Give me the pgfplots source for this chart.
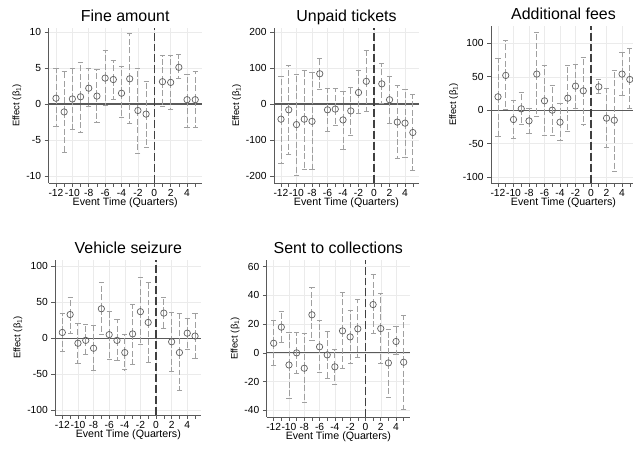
\documentclass[border=0pt]{standalone}
\usepackage{pgfplots}
\pgfplotsset{compat=1.18}
\usepackage{pgfplotstable}
\usepackage{fontspec}
\setmainfont{Liberation Sans}

\pgfplotstableread{
x y lo hi
-12 0.8 -3.1 4.9
-11 -1.1 -6.7 4.5
-10 0.7 -3.5 4.9
-9 1.0 -3.9 5.8
-8 2.2 -0.3 4.9
-7 1.1 -2.6 4.8
-6 3.6 -0.2 7.5
-5 3.4 0.7 6.0
-4 1.5 -1.9 5.2
-3 3.5 -2.7 9.8
-2 -0.9 -6.8 4.9
-1 -1.4 -6.0 3.1
1 3.1 -0.4 6.7
2 3.0 -0.8 6.7
3 5.1 3.5 6.9
4 0.6 -3.2 4.1
5 0.6 -3.3 4.5
}\fine

\pgfplotstableread{
x y lo hi
-12 -42 -164 77
-11 -16 -141 106
-10 -57 -199 83
-9 -42 -181 93
-8 -48 -182 88
-7 84 42 128
-6 -16 -76 44
-5 -14 -60 43
-4 -44 -127 35
-3 -19 -87 46
-2 32 -25 93
-1 63 -20 148
1 56 1 113
2 12 -53 77
3 -50 -150 51
4 -53 -148 42
5 -79 -184 26
}\unpaid

\pgfplotstableread{
x y lo hi
-12 20 -40 77
-11 52 1.5 104
-10 -14 -42 15
-9 2 -22 26
-8 -16 -35 2
-7 54 -9 116
-6 14 -38 67
-5 0 -38 37
-4 -18 -45 10
-3 18 -32 67
-2 36 2 69
-1 29 -22 79
1 35 25 46
2 -12 -56 33
3 -15 -91 60
4 54 22 87
5 46 2 92
}\fees

\pgfplotstableread{
x y lo hi
-12 8 -19 34
-11 33 7 57
-10 -7 -35 20
-9 -3 -23 19
-8 -14 -45 18
-7 41 5 78
-6 5 -29 37
-5 -3 -31 26
-4 -20 -44 6
-3 6 -36 47
-2 37 -8 85
-1 22 -34 78
1 35 14 57
2 -5 -46 36
3 -20 -73 34
4 7 -15 28
5 3 -28 35
}\seizure

\pgfplotstableread{
x y lo hi
-12 6.7 -8.8 22.3
-11 17.9 7.4 28.8
-10 -8.4 -31.6 14.4
-9 0 -14.4 14.4
-8 -10.7 -34.3 13.2
-7 26.5 8.4 45.5
-6 4.2 -13.9 22.5
-5 -1.4 -17.6 14.8
-4 -9.7 -21.8 2.1
-3 15.3 -11.1 42
-2 11.1 -7.2 29.2
-1 16.7 -3.2 36.9
1 33.6 13.5 54.3
2 16.9 -7.4 41.5
3 -7 -30.9 16.2
4 7.9 -1.4 18.1
5 -6.5 -39.2 26
}\collect

\definecolor{axgray}{RGB}{90,90,90}
\definecolor{cigray}{RGB}{160,160,160}
\definecolor{mkgray}{RGB}{95,95,95}

\pgfplotsset{
  stata/.style={
    scale only axis,
    anchor=south west,
    xmin=-12.9, xmax=5.8,
    axis x line*=bottom, axis y line*=left,
    axis line style={axgray, line width=0.7pt, -},
    xtick={-12,-10,...,4},
    minor xtick={-11,-9,...,5},
    tick style={axgray, line width=0.6pt},
    major tick length=4pt, minor tick length=4pt, tick align=outside,
    grid=major, grid style={black!8, line width=0.5pt},
    minor grid style={draw=none},
    tick label style={font=\fontsize{10.3}{10.3}\selectfont},
    xticklabel style={yshift=1.5pt},
    xlabel={Event Time (Quarters)},
    ylabel={Effect (β\textsubscript{1})},
    xlabel style={font=\fontsize{10.7}{10.7}\selectfont, yshift=5pt},
    ylabel style={font=\fontsize{9.5}{9.5}\selectfont, yshift=-2pt},
    title style={font=\fontsize{16}{16}\selectfont, text depth=0pt, yshift=-3pt},
    /pgf/number format/assume math mode=true,
    clip=false,
  },
  ci/.style={
    only marks, mark=o, mark size=3.2pt,
    mark options={mkgray, line width=0.7pt, solid},
    error bars/.cd, y dir=both, y explicit,
    error bar style={cigray, line width=0.9pt, dash pattern=on 6pt off 2.5pt},
    error mark options={rotate=90, cigray, mark size=2.6pt, line width=0.8pt, solid},
  },
}

\newcommand{\panel}[3]{%
  \addplot[axgray, line width=1.2pt, forget plot] coordinates {(-12.9,0) (5.8,0)};
  \addplot[black!75, line width=1.2pt, dash pattern=on 8pt off 3pt, forget plot] coordinates {(0,#2) (0,#3)};
  \addplot[ci] table[x=x, y=y, y error plus expr=\thisrow{hi}-\thisrow{y}, y error minus expr=\thisrow{y}-\thisrow{lo}] {#1};
}

\begin{document}
\begin{tikzpicture}[x=1bp,y=1bp]
\fill[white] (0,0) rectangle (633,451);
\useasboundingbox (0,0) rectangle (633,451);

\begin{axis}[stata, at={(48.6bp,268bp)}, width=153.2bp, height=155bp,
  ymin=-10.97, ymax=10.56, ytick={-10,-5,0,5,10}, title={Fine amount}]
\panel{\fine}{-10.97}{10.56}
\end{axis}

\begin{axis}[stata, at={(274bp,268bp)}, width=145bp, height=155bp,
  ymin=-219, ymax=211, ytick={-200,-100,0,100,200}, title={Unpaid tickets}]
\panel{\unpaid}{-219}{211}
\end{axis}

\begin{axis}[stata, at={(491bp,268bp)}, width=145bp, height=157bp,
  ymin=-109, ymax=126, ytick={-100,-50,0,50,100}, title={Additional fees}]
\panel{\fees}{-109}{126}
\end{axis}

\begin{axis}[stata, at={(55.3bp,36bp)}, width=146bp, height=155bp,
  ymin=-107, ymax=109, ytick={-100,-50,0,50,100}, title={Vehicle seizure}]
\panel{\seizure}{-107}{109}
\end{axis}

\begin{axis}[stata, at={(266.8bp,34bp)}, width=143bp, height=157bp,
  ymin=-44.6, ymax=64.6, ytick={-40,-20,0,20,40,60}, title={Sent to collections}]
\panel{\collect}{-44.6}{64.6}
\end{axis}
\end{tikzpicture}
\end{document}
